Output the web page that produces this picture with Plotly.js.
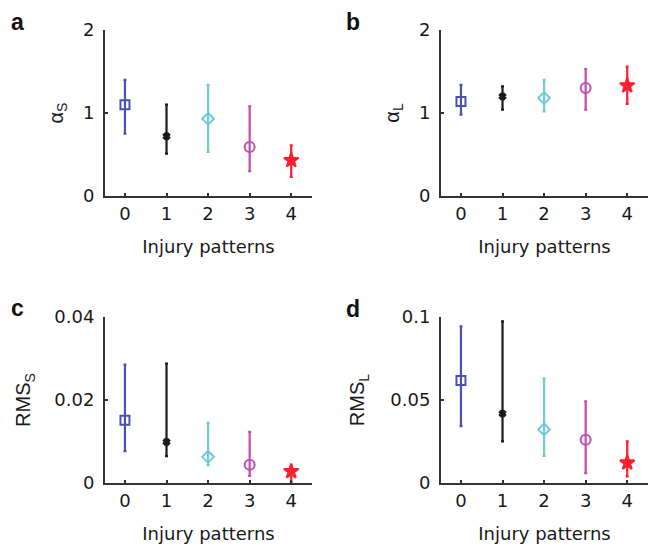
<!DOCTYPE html>
<html>
<head>
<meta charset="utf-8">
<script src="https://cdn.plot.ly/plotly-3.0.1.min.js"></script>
<style>html,body{margin:0;padding:0;background:#fff;}#chart{width:648px;height:545px;}</style>
</head>
<body>
<div id="chart"></div>
<script>
// ---- data ----
const categories = [0, 1, 2, 3, 4];
const tickLabelsX = ["0", "1", "2", "3", "4"];

const alphaS_mean  = [1.10, 0.72, 0.93, 0.59, 0.43];
const alphaS_upper = [1.40, 1.10, 1.34, 1.08, 0.61];
const alphaS_lower = [0.75, 0.51, 0.53, 0.30, 0.23];

const alphaL_mean  = [1.14, 1.20, 1.18, 1.30, 1.33];
const alphaL_upper = [1.34, 1.32, 1.40, 1.53, 1.56];
const alphaL_lower = [0.98, 1.04, 1.02, 1.04, 1.11];

const rmsS_mean  = [0.0151, 0.0099, 0.0063, 0.0044, 0.0028];
const rmsS_upper = [0.0285, 0.0288, 0.0145, 0.0123, 0.0041];
const rmsS_lower = [0.0077, 0.0065, 0.0043, 0.0017, 0.0002];

const rmsL_mean  = [0.0618, 0.0418, 0.0323, 0.0261, 0.0122];
const rmsL_upper = [0.0944, 0.0974, 0.0629, 0.0492, 0.0251];
const rmsL_lower = [0.0343, 0.0251, 0.0163, 0.0060, 0.0040];

const yTicksA = [0, 1, 2];        const yTextA = ["0", "1", "2"];
const yTicksC = [0, 0.02, 0.04];  const yTextC = ["0", "0.02", "0.04"];
const yTicksD = [0, 0.05, 0.1];   const yTextD = ["0", "0.05", "0.1"];

// ---- styles ----
const colors  = ["#4a52b0", "#1a1a1a", "#6fcbd8", "#c04fb0", "#ff1f2f"];
const symbols = ["square-open", "x", "diamond-open", "circle-open", "star"];
const sizes   = [9, 5, 9, 10, 11];

const panels = [
  {mean: alphaS_mean, up: alphaS_upper, lo: alphaS_lower, xa: "x",  ya: "y"},
  {mean: alphaL_mean, up: alphaL_upper, lo: alphaL_lower, xa: "x2", ya: "y2"},
  {mean: rmsS_mean,   up: rmsS_upper,   lo: rmsS_lower,   xa: "x3", ya: "y3"},
  {mean: rmsL_mean,   up: rmsL_upper,   lo: rmsL_lower,   xa: "x4", ya: "y4"}
];

const traces = [];
panels.forEach(p => {
  categories.forEach((c, i) => {
    traces.push({
      type: "scatter", mode: "markers",
      x: [c], y: [p.mean[i]],
      xaxis: p.xa, yaxis: p.ya,
      marker: {symbol: symbols[i], size: sizes[i], color: colors[i],
               line: {width: 2, color: colors[i]}},
      error_y: {type: "data", symmetric: false,
                array: [p.up[i] - p.mean[i]], arrayminus: [p.mean[i] - p.lo[i]],
                color: colors[i], thickness: 2.2, width: 1.5},
      showlegend: false, hoverinfo: "x+y"
    });
  });
});

const W = 648, H = 545;
const tickFont = {family: "DejaVu Sans", size: 18, color: "#1a1a1a"};
const titleFont = {family: "DejaVu Sans", size: 18, color: "#1a1a1a"};
const yTitleFont = {family: "Liberation Sans, Arial", size: 20, color: "#1a1a1a"};

function xAxis(left, right, anchor) {
  return {
    domain: [left / W, right / W], anchor: anchor,
    range: [-0.48, 4.5], tickvals: categories, ticktext: tickLabelsX,
    showline: true, linewidth: 2, linecolor: "#333",
    ticks: "inside", ticklen: 3, tickwidth: 2, tickcolor: "#333",
    showgrid: false, zeroline: false, tickfont: tickFont,
    title: {text: "Injury patterns", font: titleFont, standoff: 18},
    fixedrange: true
  };
}
function yAxis(top, bottom, anchor, range, tv, tt, title, standoff) {
  return {
    domain: [(H - bottom) / H, (H - top) / H], anchor: anchor,
    range: range, tickvals: tv, ticktext: tt,
    showline: true, linewidth: 2, linecolor: "#333",
    ticks: "inside", ticklen: 3, tickwidth: 2, tickcolor: "#333",
    ticklabelstandoff: 5,
    showgrid: false, zeroline: false, tickfont: tickFont,
    title: {text: title, font: yTitleFont, standoff: standoff},
    fixedrange: true
  };
}

const layout = {
  width: W, height: H,
  margin: {l: 0, r: 0, t: 0, b: 0},
  paper_bgcolor: "#fff", plot_bgcolor: "#fff",
  showlegend: false,
  xaxis:  xAxis(105, 312, "y"),
  yaxis:  yAxis(30, 196, "x", [0, 2], yTicksA, yTextA, "α<sub>S</sub>", 14),
  xaxis2: xAxis(441, 648, "y2"),
  yaxis2: yAxis(30, 196, "x2", [0, 2], yTicksA, yTextA, "α<sub>L</sub>", 14),
  xaxis3: xAxis(105, 312, "y3"),
  yaxis3: yAxis(317, 483, "x3", [0, 0.04], yTicksC, yTextC, "RMS<sub>S</sub>", 18),
  xaxis4: xAxis(441, 648, "y4"),
  yaxis4: yAxis(317, 483, "x4", [0, 0.1], yTicksD, yTextD, "RMS<sub>L</sub>", 20),
  annotations: [
    {text: "a", x: 17 / W, y: 1 - 22 / H},
    {text: "b", x: 353 / W, y: 1 - 22 / H},
    {text: "c", x: 17 / W, y: 1 - 308 / H},
    {text: "d", x: 353 / W, y: 1 - 309 / H}
  ].map(a => Object.assign(a, {xref: "paper", yref: "paper", showarrow: false,
    xanchor: "center", yanchor: "middle",
    font: {family: "Liberation Sans, Arial", size: 23, color: "#111", weight: "bold"}}))
};

Plotly.newPlot("chart", traces, layout, {displayModeBar: false, staticPlot: true});
</script>
</body>
</html>
